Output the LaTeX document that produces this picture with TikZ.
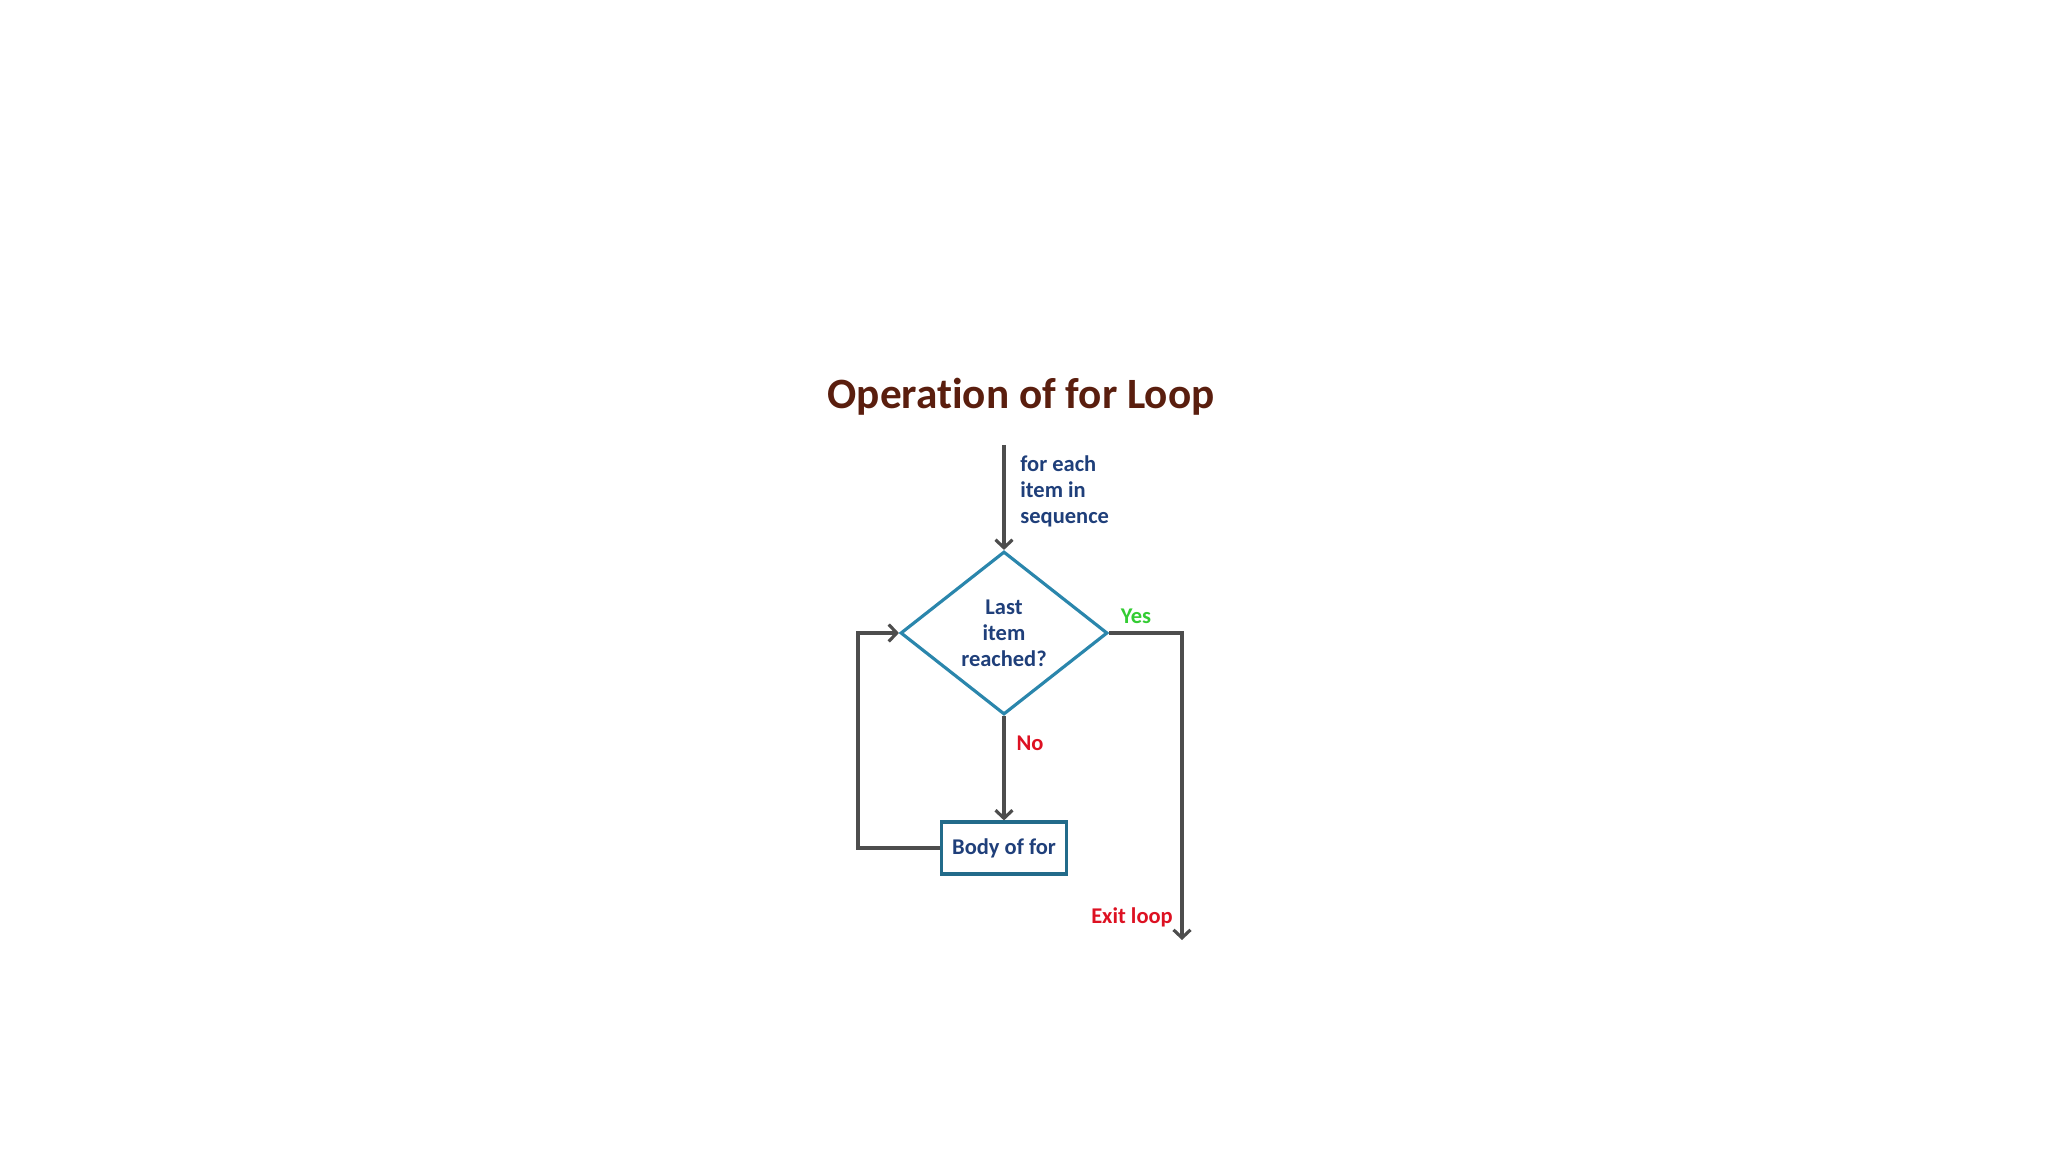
\documentclass[tikz,border=0pt]{standalone}
\usepackage{fontspec}
\setmainfont{Carlito}[Ligatures=NoCommon]
\usetikzlibrary{arrows.meta,positioning,shapes.geometric,calc}
\definecolor{titlebrown}{HTML}{5A1E0E}
\definecolor{textblue}{HTML}{1F3F7A}
\definecolor{edgeteal}{HTML}{2A86AC}
\definecolor{linegray}{HTML}{4D4D4D}
\definecolor{yesgreen}{HTML}{33CC33}
\definecolor{nored}{HTML}{DD1122}

\begin{document}
\begin{tikzpicture}[every node/.style={font=\bfseries\fontsize{6.4}{7.4}\selectfont},
		flow/.style={line width=0.9pt, linegray, -{Straight Barb[width=1.7mm,length=0.8mm,line width=0.9pt]}},
		decision/.style={diamond, draw=edgeteal, line width=0.9pt, inner sep=0pt, minimum width=2.07cm, minimum height=1.63cm, text=textblue, align=center},
		bodybox/.style={rectangle, draw=edgeteal!80!black, line width=0.9pt, inner sep=1pt, minimum width=1.25cm, minimum height=0.52cm, text=textblue}]
			\useasboundingbox (0,0) rectangle (20.48,-11.52);
			\node[text=titlebrown, font=\bfseries\fontsize{12.3}{14}\selectfont] (title) at (10.21,-3.97) {Operation of for Loop};
			\coordinate (start) at (10.04,-4.45);
			\node[decision] (last) at (10.04,-6.33) {Last\\item\\reached?};
			\node[bodybox] (body) at (10.04,-8.48) {Body of for};
			\coordinate (yes) at (11.82,-6.33);
			\coordinate (exit) at (11.82,-9.40);
			\coordinate (back) at (8.58,-8.48);
			% arrows
			\draw[flow] (start) -- (last.north);
			\draw[flow] (last.south) -- (body.north);
			\draw[flow] (last.east) -- (yes) -- (exit);
			\draw[flow] (body.west) -- (back) |- (last.west);
			% labels
			\node[anchor=west, align=left, text=textblue] (seq) at (10.08,-4.91) {for each\\item in\\sequence};
			\node[text=yesgreen] (yeslbl) at (11.36,-6.16) {Yes};
			\node[text=nored] (nolbl) at (10.30,-7.43) {No};
			\node[text=nored] (exitlbl) at (11.32,-9.17) {Exit loop};
		\end{tikzpicture}
\end{document}
